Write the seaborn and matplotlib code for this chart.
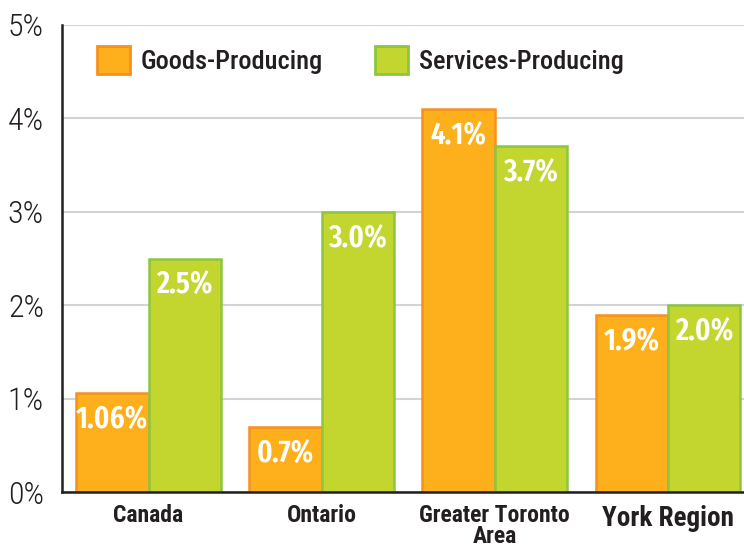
import numpy as np
import pandas as pd
import matplotlib.pyplot as plt
import seaborn as sns
from matplotlib.patches import Patch
from matplotlib.ticker import FixedLocator

# Dados do gráfico
regions = ["Canada", "Ontario", "Greater Toronto\nArea", "York Region"]
sectors = ["Goods-Producing", "Services-Producing"]
goods = [1.06, 0.7, 4.1, 1.9]
services = [2.5, 3.0, 3.7, 2.0]
value_labels_goods = ["1.06%", "0.7%", "4.1%", "1.9%"]
value_labels_services = ["2.5%", "3.0%", "3.7%", "2.0%"]

fill_colors = ["#FDB01B", "#C2D62F"]
edge_colors = ["#F7901E", "#8DC63F"]
dark = "#231F20"

df = pd.DataFrame({
    "region": regions * 2,
    "sector": [sectors[0]] * 4 + [sectors[1]] * 4,
    "value": goods + services,
})

sns.set_style("white")
plt.rcParams["font.family"] = ["Roboto Condensed", "DejaVu Sans"]

fig = plt.figure(figsize=(7.44, 5.55), dpi=100)
ax = fig.add_axes([62 / 744, 1 - 492 / 555, 1 - 62 / 744, (492 - 25) / 555])

sns.barplot(data=df, x="region", y="value", hue="sector", palette=fill_colors,
            width=0.835, saturation=1, ax=ax, legend=False, zorder=3)

# bordas e rótulos das barras
all_labels = [value_labels_goods, value_labels_services]
for i, container in enumerate(ax.containers):
    for patch in container:
        patch.set_edgecolor(edge_colors[i])
        patch.set_linewidth(1.8)
    texts = ax.bar_label(container, labels=all_labels[i], padding=-9,
                         color="white", fontsize=22.5, fontweight="semibold",
                         family=["Fira Sans Extra Condensed", "DejaVu Sans"],
                         zorder=4)
    for txt in texts:
        txt.set_va("top")

ax.set_ylim(0, 5)
ax.set_xlim(-0.5, 3.44)
ax.set_yticks(np.arange(0, 6, 1))
ax.set_yticklabels([f"{v}%" for v in range(6)], fontsize=23, color=dark,
                   fontweight="light")
ax.yaxis.grid(True, color="#D1D3D4", linewidth=1.5, zorder=0)
ax.set_axisbelow(True)

ax.set_xlabel("")
ax.set_ylabel("")
ax.set_xticks(range(4))
ax.set_xticklabels(regions, fontsize=17, fontweight="bold", color=dark,
                   linespacing=0.85)
ax.get_xticklabels()[3].set_fontsize(19.5)
ax.xaxis.set_minor_locator(FixedLocator([0.5, 1.5, 2.5]))
ax.tick_params(axis="x", which="major", length=0, pad=9)
ax.tick_params(axis="x", which="minor", length=7, width=1.8, color=dark,
               direction="out")
ax.tick_params(axis="y", length=7, width=1.8, color=dark, direction="out",
               pad=6)

for side in ["top", "right"]:
    ax.spines[side].set_visible(False)
for side in ["left", "bottom"]:
    ax.spines[side].set_color(dark)
    ax.spines[side].set_linewidth(1.8)
    ax.spines[side].set_zorder(5)

handles = [Patch(facecolor=fill_colors[i], edgecolor=edge_colors[i],
                 linewidth=2, label=sectors[i]) for i in range(2)]
ax.legend(handles=handles, ncol=2, loc="upper left", frameon=False,
          handlelength=1.25, handleheight=1.25,
          handletextpad=0.4, columnspacing=2.0,
          bbox_to_anchor=(0.016, 1.005), labelcolor=dark,
          prop={"weight": "medium", "size": 19})

fig.savefig("out.png", dpi=100)
